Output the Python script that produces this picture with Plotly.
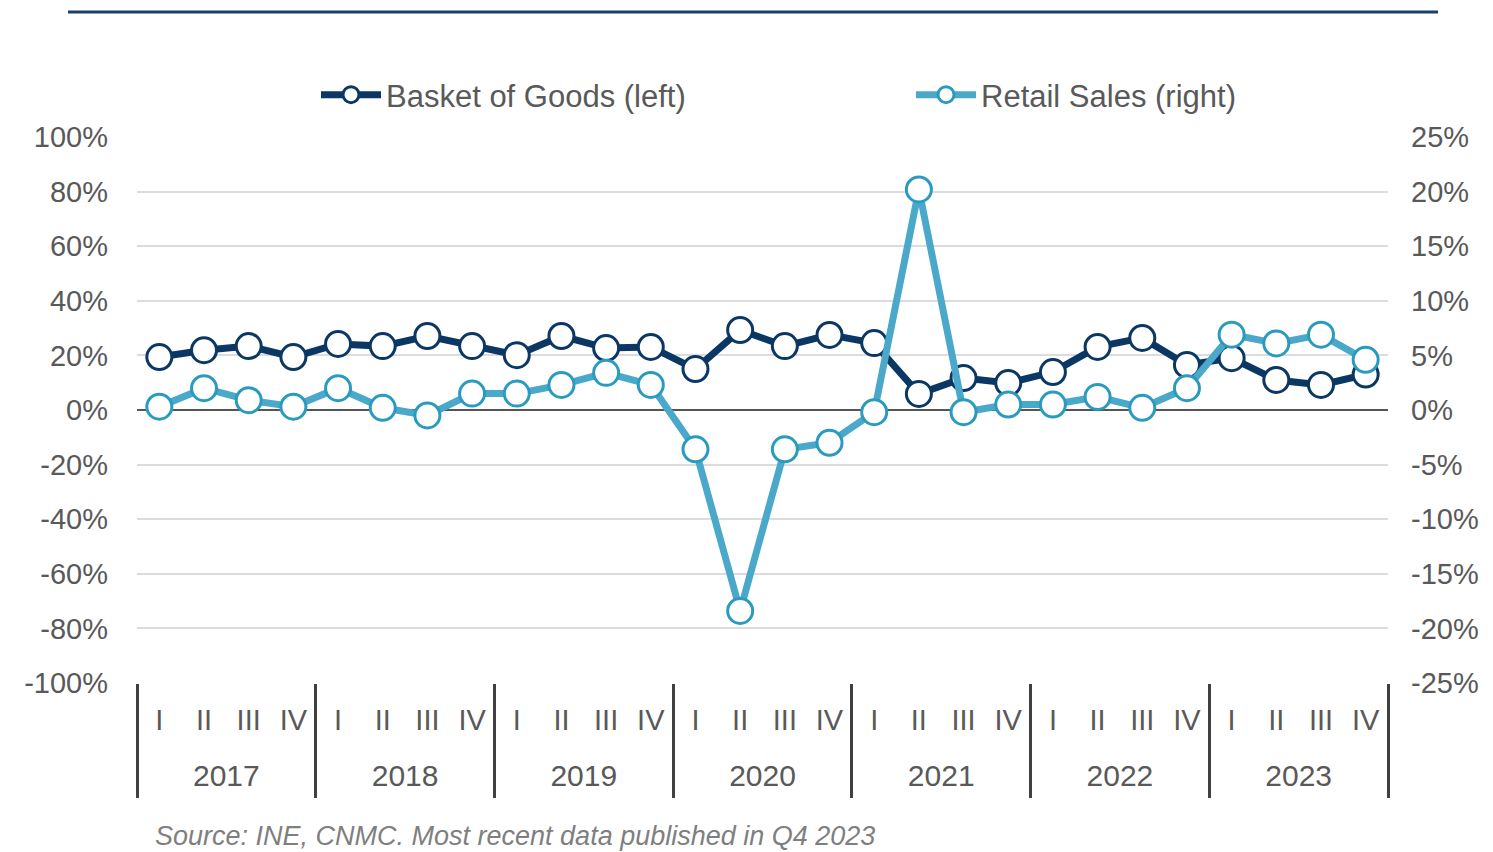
import plotly.graph_objects as go

years = ["2017", "2018", "2019", "2020", "2021", "2022", "2023"]
quarters = ["I", "II", "III", "IV"]
x_years = [y for y in years for _ in quarters]
x_quarters = [q for _ in years for q in quarters]
x_cats = [f"{y} {q}" for y, q in zip(x_years, x_quarters)]

basket = [19.4, 21.9, 23.4, 19.4,
          24.2, 23.4, 27.1, 23.4,
          20.1, 27.1, 22.7, 23.1,
          15.0, 29.3, 23.4, 27.5,
          24.5, 5.9, 11.7, 9.9,
          13.9, 23.1, 26.4, 16.5,
          19.0, 11.0, 9.2, 13.0]
retail = [0.3, 2.0, 0.9, 0.3,
          2.0, 0.2, -0.5, 1.5,
          1.5, 2.3, 3.4, 2.3,
          -3.6, -18.4, -3.6, -3.0,
          -0.2, 20.2, -0.2, 0.5,
          0.5, 1.2, 0.2, 2.0,
          6.9, 6.1, 6.9, 4.6]

left_ticks = [-100, -80, -60, -40, -20, 0, 20, 40, 60, 80, 100]
right_ticks = [-25, -20, -15, -10, -5, 0, 5, 10, 15, 20, 25]

n = len(x_cats)
nq = len(quarters)
year_centers = [i * nq + (nq - 1) / 2 for i in range(len(years))]
year_bounds = [i * nq - 0.5 for i in range(len(years) + 1)]

navy = "#0b3764"
cyan = "#4aa8cb"
grey_txt = "#595959"
font_family = "Liberation Sans, Arial, sans-serif"

fig = go.Figure()
fig.add_trace(go.Scatter(
    x=x_cats, y=basket, name="Basket of Goods (left)",
    mode="lines+markers", line=dict(color=navy, width=7),
    marker=dict(size=25, color="white", line=dict(color=navy, width=3)),
    xaxis="x", yaxis="y"))
fig.add_trace(go.Scatter(
    x=x_cats, y=retail, name="Retail Sales (right)",
    mode="lines+markers", line=dict(color=cyan, width=7),
    marker=dict(size=25, color="white", line=dict(color="#2a9bbf", width=3)),
    xaxis="x", yaxis="y2"))
# invisible helper traces so that the year-label and divider axes are drawn
fig.add_trace(go.Scatter(x=year_centers, y=[0] * len(year_centers), mode="markers",
                         marker=dict(opacity=0), hoverinfo="skip", showlegend=False,
                         xaxis="x2", yaxis="y"))
fig.add_trace(go.Scatter(x=year_bounds, y=[0] * len(year_bounds), mode="markers",
                         marker=dict(opacity=0), hoverinfo="skip", showlegend=False,
                         xaxis="x3", yaxis="y"))

fig.update_layout(
    width=1493, height=852,
    margin=dict(l=137, r=105, t=137, b=169, autoexpand=False),
    paper_bgcolor="white", plot_bgcolor="white",
    font=dict(family=font_family, size=29, color=grey_txt),
    showlegend=True,
    legend=dict(orientation="h", x=(316 - 137) / 1251, xanchor="left",
                y=(683 - 95) / 546, yanchor="middle",
                entrywidth=520, entrywidthmode="pixels",
                font=dict(size=31, color=grey_txt), itemwidth=60, traceorder="normal"),
    xaxis=dict(type="category", categoryorder="array", categoryarray=x_cats,
               range=[-0.5, n - 0.5], tickvals=x_cats, ticktext=x_quarters,
               showgrid=False, showline=False, zeroline=False,
               ticks="outside", ticklen=11, tickcolor="rgba(0,0,0,0)",
               tickfont=dict(size=29, color=grey_txt)),
    xaxis2=dict(overlaying="x", anchor="y", side="bottom", type="linear",
                range=[-0.5, n - 0.5], tickvals=year_centers, ticktext=years,
                showgrid=False, showline=False, zeroline=False,
                ticks="outside", ticklen=66, tickcolor="rgba(0,0,0,0)",
                tickfont=dict(size=30, color=grey_txt)),
    xaxis3=dict(overlaying="x", anchor="y", side="bottom", type="linear",
                range=[-0.5, n - 0.5], tickvals=year_bounds,
                showticklabels=False, showgrid=False, showline=False, zeroline=False,
                ticks="outside", ticklen=114, tickwidth=3, tickcolor="#404040"),
    yaxis=dict(range=[-100, 100], tickvals=left_ticks,
               ticktext=[f"{v}%" for v in left_ticks], showgrid=True,
               gridcolor="#dcdcdc", gridwidth=1.5, zeroline=True, zerolinecolor="#555555",
               zerolinewidth=2, showline=False, ticklabelstandoff=28,
               tickfont=dict(size=29, color=grey_txt)),
    yaxis2=dict(range=[-25, 25], tickvals=right_ticks,
                ticktext=[f"{v}%" for v in right_ticks], overlaying="y", side="right",
                showgrid=False, zeroline=False, showline=False, ticklabelstandoff=22,
                tickfont=dict(size=29, color=grey_txt)),
)

fig.add_shape(type="line", xref="paper", yref="paper",
              x0=(68 - 137) / 1251, x1=(1438 - 137) / 1251,
              y0=(683 - 12) / 546, y1=(683 - 12) / 546,
              line=dict(color="#1a3f6b", width=3))

fig.add_annotation(text="<i>Source: INE, CNMC. Most recent data published in Q4 2023</i>",
                   xref="paper", yref="paper", x=(153 - 137) / 1251, y=(683 - 836) / 546,
                   xanchor="left", yanchor="middle", showarrow=False,
                   font=dict(size=27, color="#7f7f7f"))

fig.write_html("out.html", config={"displayModeBar": False},
               post_script="document.body.style.margin='0';")
